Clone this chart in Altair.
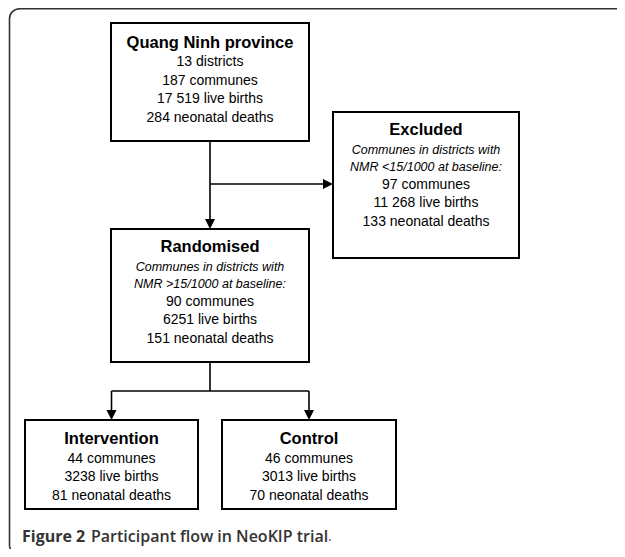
import altair as alt
import pandas as pd

# ---- text content (values) ----
box_titles = ["Quang Ninh province", "Excluded", "Randomised", "Intervention", "Control"]
box_notes = [
    [],
    ["Communes in districts with", "NMR <15/1000 at baseline:"],
    ["Communes in districts with", "NMR >15/1000 at baseline:"],
    [],
    [],
]
box_lines = [
    ["13 districts", "187 communes", "17 519 live births", "284 neonatal deaths"],
    ["97 communes", "11 268 live births", "133 neonatal deaths"],
    ["90 communes", "6251 live births", "151 neonatal deaths"],
    ["44 communes", "3238 live births", "81 neonatal deaths"],
    ["46 communes", "3013 live births", "70 neonatal deaths"],
]
caption_bold = "Figure 2"
caption_text = "Participant flow in NeoKIP trial"

# ---- layout (page pixel coordinates) ----
boxes = [  # x, x2, y, y2, title_y
    (111, 309, 23, 141, 42.5),
    (333, 519, 112, 258, 130),
    (111, 309, 229, 362, 247),
    (25, 198, 420, 509, 439),
    (222, 396, 420, 509, 439),
]
LINE_H = 18.7

segments = [  # x, y, x2, y2
    (210, 141, 210, 225),
    (210, 184, 329, 184),
    (210, 362, 210, 391),
    (111.5, 391, 309, 391),
    (111.5, 391, 111.5, 416),
    (309, 391, 309, 416),
]
heads_down = [(210, 229), (111.5, 420), (309, 420)]
heads_right = [(333, 184)]

W, H = 609, 541
xs = alt.Scale(domain=[8, 8 + W], range=[0, W], nice=False, zero=False)
ys = alt.Scale(domain=[8, 8 + H], range=[0, H], nice=False, zero=False)

def X(f="x"):
    return alt.X(f + ":Q", scale=xs, axis=None)

def Y(f="y"):
    return alt.Y(f + ":Q", scale=ys, axis=None)

# build text tables
titles, notes, lines = [], [], []
for i, (x1, x2, y1, y2, ty) in enumerate(boxes):
    cx = (x1 + x2) / 2
    titles.append({"x": cx, "y": ty, "t": box_titles[i]})
    yy = ty + 19.5
    for n in box_notes[i]:
        notes.append({"x": cx, "y": yy, "t": n})
        yy += 17.5
    for l in box_lines[i]:
        lines.append({"x": cx, "y": yy, "t": l})
        yy += LINE_H

frame = alt.Chart(pd.DataFrame([{"x": 9.5, "x2": 680, "y": 8.75, "y2": 555}])).mark_rect(
    fill="white", stroke="#333333", strokeWidth=1.6, cornerRadius=10
).encode(x=X(), x2="x2:Q", y=Y(), y2="y2:Q")

box_df = pd.DataFrame([{"x": b[0], "x2": b[1], "y": b[2], "y2": b[3]} for b in boxes])
box_layer = alt.Chart(box_df).mark_rect(fill="white", stroke="black", strokeWidth=2).encode(
    x=X(), x2="x2:Q", y=Y(), y2="y2:Q"
)

seg_df = pd.DataFrame([{"x": s[0], "y": s[1], "x2": s[2], "y2": s[3]} for s in segments])
seg_layer = alt.Chart(seg_df).mark_rule(color="black", strokeWidth=1.6).encode(
    x=X(), y=Y(), x2="x2:Q", y2="y2:Q"
)

down_layer = alt.Chart(pd.DataFrame([{"x": h[0], "y": h[1]} for h in heads_down])).mark_point(
    shape="M-1,-2L1,-2L0,0Z", filled=True, color="black", opacity=1, size=100
).encode(x=X(), y=Y())
right_layer = alt.Chart(pd.DataFrame([{"x": h[0], "y": h[1]} for h in heads_right])).mark_point(
    shape="M-2,-1L-2,1L0,0Z", filled=True, color="black", opacity=1, size=100
).encode(x=X(), y=Y())

font = "Liberation Sans"
title_layer = alt.Chart(pd.DataFrame(titles)).mark_text(
    font=font, fontSize=16.5, fontWeight="bold", color="black", align="center", baseline="middle"
).encode(x=X(), y=Y(), text="t:N")
note_layer = alt.Chart(pd.DataFrame(notes)).mark_text(
    font=font, fontSize=12.5, fontStyle="italic", color="black", align="center", baseline="middle"
).encode(x=X(), y=Y(), text="t:N")
line_layer = alt.Chart(pd.DataFrame(lines)).mark_text(
    font=font, fontSize=14, color="black", align="center", baseline="middle"
).encode(x=X(), y=Y(), text="t:N")

cap1 = alt.Chart(pd.DataFrame([{"x": 22, "y": 537, "t": caption_bold}])).mark_text(
    font="Open Sans", fontSize=16, fontWeight="bold", color="#333333", align="left", baseline="middle"
).encode(x=X(), y=Y(), text="t:N")
cap2 = alt.Chart(pd.DataFrame([{"x": 91, "y": 537, "t": caption_text}])).mark_text(
    font="Open Sans", fontSize=16, fontWeight=600, color="#333333", align="left", baseline="middle"
).encode(x=X(), y=Y(), text="t:N")
cap3 = alt.Chart(pd.DataFrame([{"x": 328, "y": 537, "t": "."}])).mark_text(
    font="Open Sans", fontSize=14, fontWeight="normal", color="#555555", align="left", baseline="middle"
).encode(x=X(), y=Y(), text="t:N")

chart = alt.layer(
    frame, seg_layer, box_layer, down_layer, right_layer,
    title_layer, note_layer, line_layer, cap1, cap2, cap3
).properties(
    width=W, height=H, padding=0,
    autosize=alt.AutoSizeParams(type="none", contains="padding"),
).configure_view(stroke=None)

chart.save("out.html", embed_options={"renderer": "svg", "actions": False})
